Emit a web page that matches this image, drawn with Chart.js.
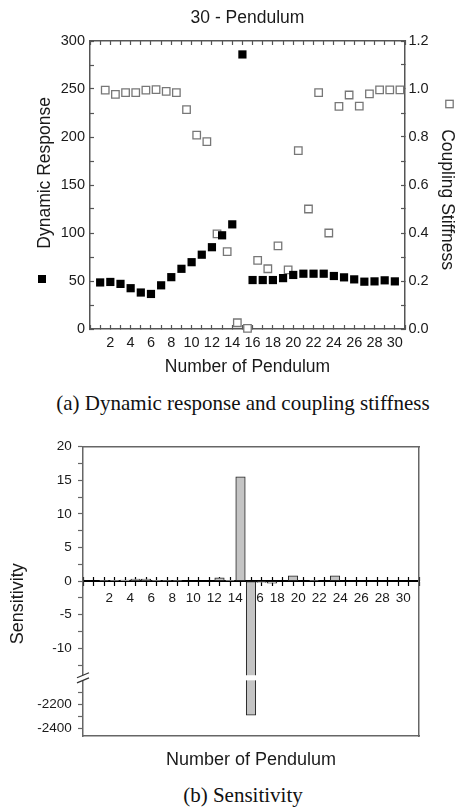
<!DOCTYPE html>
<html><head><meta charset="utf-8">
<script src="https://cdn.jsdelivr.net/npm/chart.js@4"></script>
<style>
body{margin:0;width:456px;height:807px;background:#fff;position:relative;overflow:hidden;font-family:'Liberation Sans',Arial,sans-serif}
#w1{position:absolute;left:0;top:0;width:456px;height:385px}
#w2{position:absolute;left:0;top:420px;width:456px;height:355px}
.cap{position:absolute;left:30px;width:426px;text-align:center;font-family:'Liberation Serif','Times New Roman',serif;font-size:21px;line-height:26px;color:#111;white-space:nowrap}
</style></head><body>
<div id="w1"><canvas id="c1"></canvas></div>
<div class="cap" style="top:390px">(a) Dynamic response and coupling stiffness</div>
<div id="w2"><canvas id="c2"></canvas></div>
<div class="cap" style="top:782px">(b) Sensitivity</div>
<script>
// ---------- data ----------
const chartTitle = '30 - Pendulum';
const pendulums = [1,2,3,4,5,6,7,8,9,10,11,12,13,14,15,16,17,18,19,20,21,22,23,24,25,26,27,28,29,30];
const dynamicResponse = [48.5,49,47,42.5,38,36.5,45.5,54,62.7,69.6,77.4,85.2,97.6,109,286,51,51,51,53,56.3,57.6,57.6,57.6,55.2,53.8,51.7,49.3,49.6,50.7,49.6];
const springPositions = [1.5,2.5,3.5,4.5,5.5,6.5,7.5,8.5,9.5,10.5,11.5,12.5,13.5,14.5,15.5,16.5,17.5,18.5,19.5,20.5,21.5,22.5,23.5,24.5,25.5,26.5,27.5,28.5,29.5,30.5];
const couplingStiffness = [0.995,0.978,0.985,0.985,0.995,0.997,0.99,0.985,0.914,0.808,0.781,0.396,0.322,0.026,0.003,0.286,0.251,0.346,0.246,0.743,0.50,0.985,0.40,0.928,0.975,0.929,0.98,0.996,0.996,0.996];
const sensitivity = [0.05,0.1,0.15,0.3,0.3,0.1,0.05,0.02,0,0,0,0.5,0.1,15.5,-2290,-0.2,-0.3,0,0.8,0,0.05,0,0.8,0,0,0,0,0,0,0];

const xTickValues = [0,1,2,3,4,5,6,7,8,9,10,11,12,13,14,15,16,17,18,19,20,21,22,23,24,25,26,27,28,29,30,31];
const xTickLabels = [2,4,6,8,10,12,14,16,18,20,22,24,26,28,30];
const respTickValues = [0,25,50,75,100,125,150,175,200,225,250,275,300];
const respTickLabels = [0,50,100,150,200,250,300];
const stiffTickValues = [0,0.1,0.2,0.3,0.4,0.5,0.6,0.7,0.8,0.9,1.0,1.1,1.2];
const stiffTickLabels = [0,0.2,0.4,0.6,0.8,1.0,1.2];
const sensTickValues = [20,17.5,15,12.5,10,7.5,5,2.5,0,-2.5,-5,-7.5,-10,-12.5,-2100,-2200,-2300,-2400];
const sensTickLabels = [20,15,10,5,0,-5,-10,-2200,-2400];

// ---------- style ----------
const FONT = "'Liberation Sans', Arial, sans-serif";
const AX = '#555';
const TXT = '#1a1a1a';
const tickFont = {family: FONT, size: 14.5};
const titleFont = {family: FONT, size: 17.5, lineHeight: 1, weight: 'normal'};
const brk = {upMin: -14, upMax: 20, loMin: -2465, loMax: -2000, upFrac: 0.790, gapFrac: 0.0176};
const setTicks = vals => s => { s.ticks = vals.map(v => ({value: v})); };
const has = (arr, v) => arr.some(a => Math.abs(a - v) < 1e-6);

// ---------- broken linear scale ----------
class BrokenLinearScale extends Chart.LinearScale {
  getPixelForValue(v) {
    if (v === null || v === undefined || isNaN(v)) return NaN;
    const t = this.top, b = this.bottom, h = b - t;
    const y1 = t + h * brk.upFrac, y2 = y1 + h * brk.gapFrac;
    if (v >= brk.upMin) return t + (brk.upMax - v) / (brk.upMax - brk.upMin) * (y1 - t);
    if (v <= brk.loMax) return y2 + (brk.loMax - v) / (brk.loMax - brk.loMin) * (b - y2);
    return (y1 + y2) / 2;
  }
  getValueForPixel(p) {
    const t = this.top, b = this.bottom, h = b - t;
    const y1 = t + h * brk.upFrac, y2 = y1 + h * brk.gapFrac;
    if (p <= y1) return brk.upMax - (p - t) / (y1 - t) * (brk.upMax - brk.upMin);
    if (p >= y2) return brk.loMax - (p - y2) / (b - y2) * (brk.loMax - brk.loMin);
    return (brk.upMin + brk.loMax) / 2;
  }
}
BrokenLinearScale.id = 'brokenLinear';
BrokenLinearScale.defaults = Chart.LinearScale.defaults;
Chart.register(BrokenLinearScale);

// ---------- chart (a) ----------
const keyPlugin = {
  id: 'keys',
  afterDraw(chart) {
    const ctx = chart.ctx, ca = chart.chartArea, cy = (ca.top + ca.bottom) / 2;
    const yl = chart.scales.y, yr = chart.scales.y2;
    const xl = yl.left + 36.25 + 8.75 - 3;
    const xr = yr.right - (0.25 + 8.75) + 2.5;
    ctx.save();
    ctx.fillStyle = '#000';
    ctx.fillRect(xl - 4, cy + 94 - 4, 8, 8);
    ctx.fillStyle = '#fff'; ctx.strokeStyle = '#777'; ctx.lineWidth = 1.3;
    ctx.fillRect(xr - 3.7, cy - 81 - 3.7, 7.4, 7.4);
    ctx.strokeRect(xr - 3.7, cy - 81 - 3.7, 7.4, 7.4);
    ctx.restore();
  }
};

new Chart(document.getElementById('c1'), {
  type: 'scatter',
  data: {datasets: [
    {label: 'Dynamic Response', data: pendulums.map((p, i) => ({x: p, y: dynamicResponse[i]})), yAxisID: 'y',
     pointStyle: 'rect', pointRadius: 5.8, backgroundColor: '#000', borderColor: '#000', borderWidth: 0},
    {label: 'Coupling Stiffness', data: springPositions.map((p, i) => ({x: p, y: couplingStiffness[i]})), yAxisID: 'y2',
     pointStyle: 'rect', pointRadius: 5.3, backgroundColor: '#fff', borderColor: '#777', borderWidth: 1.3}
  ]},
  options: {
    responsive: true, maintainAspectRatio: false, animation: false, devicePixelRatio: 1,
    layout: {padding: 0},
    clip: false,
    plugins: {
      legend: {display: false}, tooltip: {enabled: false},
      title: {display: true, text: chartTitle, fullSize: false, font: titleFont, color: TXT, padding: {top: 9.75, bottom: 0}}
    },
    scales: {
      x: {type: 'linear', position: 'bottom', min: 0, max: 31,
        afterBuildTicks: setTicks(xTickValues), afterFit: s => { s.height = 56; },
        ticks: {font: tickFont, color: TXT, padding: 9.3, autoSkip: false, maxRotation: 0, minRotation: 0,
          callback: v => has(xTickLabels, v) ? String(v) : ''},
        grid: {drawOnChartArea: false, tickLength: -4, color: AX, tickWidth: 1.2},
        border: {color: AX, width: 1.5},
        title: {display: true, text: 'Number of Pendulum', font: titleFont, color: TXT, padding: {top: 0, bottom: 9.25}}},
      xTop: {type: 'linear', position: 'top', min: 0, max: 31,
        afterBuildTicks: setTicks(xTickValues), afterFit: s => { s.height = 13.75; },
        ticks: {display: false},
        grid: {drawOnChartArea: false, tickLength: -4, color: AX, tickWidth: 1.2},
        border: {color: AX, width: 1.5}},
      y: {type: 'linear', position: 'left', min: 0, max: 300,
        afterBuildTicks: setTicks(respTickValues), afterFit: s => { s.width = 90; },
        ticks: {font: tickFont, color: TXT, padding: 9, autoSkip: false,
          callback: v => has(respTickLabels, v) ? String(v) : ''},
        grid: {drawOnChartArea: false, tickLength: -4, color: AX, tickWidth: 1.2},
        border: {color: AX, width: 1.5},
        title: {display: true, text: '     Dynamic Response', font: titleFont, color: TXT, padding: {top: 36.25, bottom: 0}}},
      y2: {type: 'linear', position: 'right', min: 0, max: 1.2,
        afterBuildTicks: setTicks(stiffTickValues), afterFit: s => { s.width = 51; },
        ticks: {font: tickFont, color: TXT, padding: 7.5, autoSkip: false,
          callback: v => has(stiffTickLabels, v) ? v.toFixed(1) : ''},
        grid: {drawOnChartArea: false, tickLength: -4, color: AX, tickWidth: 1.2},
        border: {color: AX, width: 1.5},
        title: {display: true, text: '      Coupling Stiffness', font: titleFont, color: TXT, padding: {top: 0.25, bottom: 0}}}
    }
  },
  plugins: [keyPlugin]
});

// ---------- chart (b) ----------
const breakPlugin = {
  id: 'axisBreak',
  afterDraw(chart) {
    const ys = chart.scales.y, ca = chart.chartArea, ctx = chart.ctx;
    const h = ys.bottom - ys.top, y1 = ys.top + h * brk.upFrac, y2 = y1 + h * brk.gapFrac;
    ctx.save();
    ctx.fillStyle = '#fff';
    ctx.fillRect(ca.left - 8, y1, ca.right - 1.5 - (ca.left - 8), y2 - y1);
    ctx.strokeStyle = '#333'; ctx.lineWidth = 1.2;
    [y1, y2].forEach(yy => { ctx.beginPath(); ctx.moveTo(ca.left - 6, yy + 2.5); ctx.lineTo(ca.left + 6, yy - 2.5); ctx.stroke(); });
    ctx.restore();
  }
};
const tickFont2 = {family: FONT, size: 13.5};
const titleFont2 = {family: FONT, size: 18, lineHeight: 1, weight: 'normal'};
const FR = '#666';

new Chart(document.getElementById('c2'), {
  type: 'bar',
  data: {datasets: [
    {label: 'Sensitivity', data: springPositions.map((p, i) => ({x: p, y: sensitivity[i]})),
     xAxisID: 'x', yAxisID: 'y', backgroundColor: '#c4c4c4', borderColor: '#222', borderWidth: 1, borderSkipped: false,
     barThickness: 9.5}
  ]},
  options: {
    responsive: true, maintainAspectRatio: false, animation: false, devicePixelRatio: 1,
    layout: {padding: 0},
    plugins: {legend: {display: false}, tooltip: {enabled: false}},
    scales: {
      x: {type: 'linear', position: {y: 0}, min: 0, max: 31,
        afterBuildTicks: setTicks(xTickValues),
        ticks: {font: tickFont2, color: TXT, padding: 5, autoSkip: false, maxRotation: 0, minRotation: 0,
          callback: v => has(xTickLabels, v) ? String(v) : ''},
        grid: {drawOnChartArea: false, tickLength: 4, color: '#000', tickWidth: 1.2},
        border: {color: '#000', width: 2}},
      x2: {type: 'linear', position: {y: 0}, min: 0, max: 31,
        afterBuildTicks: setTicks(xTickValues),
        ticks: {display: false},
        grid: {drawOnChartArea: false, tickLength: -4, color: '#000', tickWidth: 1.2},
        border: {display: false}},
      xT: {type: 'linear', position: 'top', min: 0, max: 31, afterFit: s => { s.height = 26.7; },
        ticks: {display: false}, grid: {display: false}, border: {color: FR, width: 1.5}},
      xB: {type: 'linear', position: 'bottom', min: 0, max: 31, afterFit: s => { s.height = 39; },
        ticks: {display: false}, grid: {display: false}, border: {color: FR, width: 1.5},
        title: {display: true, text: 'Number of Pendulum', font: titleFont2, color: TXT, padding: {top: 0, bottom: 6}}},
      y: {type: 'brokenLinear', position: 'left', min: brk.loMin, max: brk.upMax,
        afterBuildTicks: setTicks(sensTickValues), afterFit: s => { s.width = 83; },
        ticks: {font: tickFont2, color: TXT, padding: 6.3, autoSkip: false,
          callback: v => has(sensTickLabels, v) ? String(v) : ''},
        grid: {drawOnChartArea: false, tickLength: 5, color: FR, tickWidth: 1.2},
        border: {color: FR, width: 1.5},
        title: {display: true, text: 'Sensitivity     ', font: titleFont2, color: TXT, padding: {top: 9.5, bottom: 0}}},
      yR: {type: 'linear', position: 'right', min: 0, max: 1, afterFit: s => { s.width = 37; },
        ticks: {display: false}, grid: {display: false}, border: {color: FR, width: 1.5}}
    }
  },
  plugins: [breakPlugin]
});
</script>
</body></html>
